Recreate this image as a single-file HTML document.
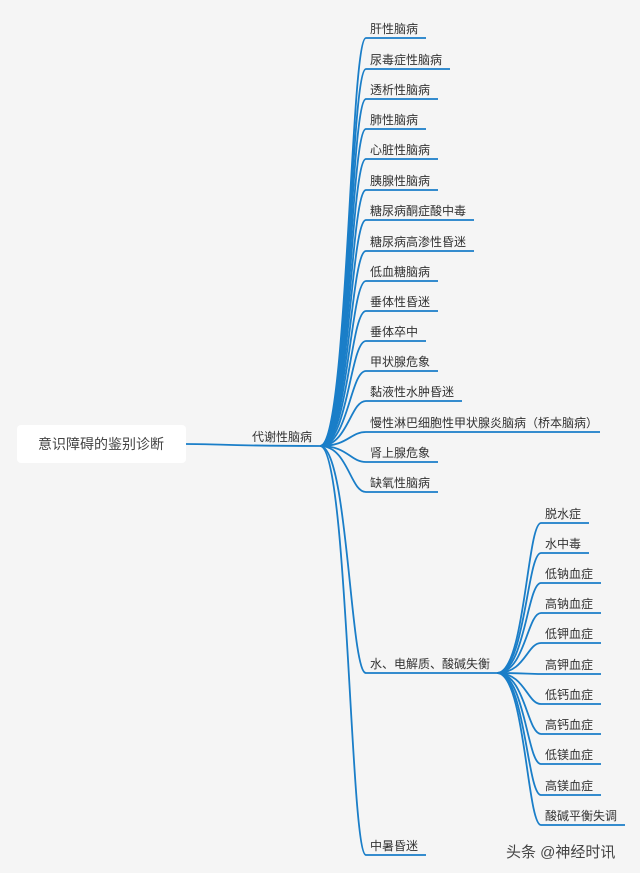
<!DOCTYPE html>
<html><head><meta charset="utf-8"><style>
html,body{margin:0;padding:0;background:#f5f5f5;}
svg{display:block;font-family:"Liberation Sans","Noto Sans CJK SC",sans-serif;}
text{fill:#333;font-size:12px;}
path{fill:none;stroke:#1a7ec8;stroke-width:1.8;}
</style></head><body>
<svg width="640" height="873" viewBox="0 0 640 873">
<rect x="0" y="0" width="640" height="873" fill="#f5f5f5"/>
<rect x="17" y="425" width="169" height="38" rx="4" fill="#fff"/>
<text x="101" y="449" text-anchor="middle" style="font-size:14px;fill:#444">意识障碍的鉴别诊断</text>
<path d="M186 444 C220 444 230 446 320 446"/>
<text x="252" y="441">代谢性脑病</text>
<g>
<path d="M320 446 C348 446 350 38 366 38 H426"/><text x="370" y="33">肝性脑病</text>
<path d="M320 446 C348 446 350 69 366 69 H450"/><text x="370" y="64">尿毒症性脑病</text>
<path d="M320 446 C348 446 350 99 366 99 H438"/><text x="370" y="94">透析性脑病</text>
<path d="M320 446 C348 446 350 129 366 129 H426"/><text x="370" y="124">肺性脑病</text>
<path d="M320 446 C348 446 350 159 366 159 H438"/><text x="370" y="154">心脏性脑病</text>
<path d="M320 446 C348 446 350 190 366 190 H438"/><text x="370" y="185">胰腺性脑病</text>
<path d="M320 446 C348 446 350 220 366 220 H474"/><text x="370" y="215">糖尿病酮症酸中毒</text>
<path d="M320 446 C348 446 350 251 366 251 H474"/><text x="370" y="246">糖尿病高渗性昏迷</text>
<path d="M320 446 C348 446 350 281 366 281 H438"/><text x="370" y="276">低血糖脑病</text>
<path d="M320 446 C348 446 350 311 366 311 H438"/><text x="370" y="306">垂体性昏迷</text>
<path d="M320 446 C348 446 350 341 366 341 H426"/><text x="370" y="336">垂体卒中</text>
<path d="M320 446 C348 446 350 371 366 371 H438"/><text x="370" y="366">甲状腺危象</text>
<path d="M320 446 C348 446 350 401 366 401 H462"/><text x="370" y="396">黏液性水肿昏迷</text>
<path d="M320 446 C348 446 350 432 366 432 H600"/><text x="370" y="427">慢性淋巴细胞性甲状腺炎脑病（桥本脑病）</text>
<path d="M320 446 C348 446 350 462 366 462 H438"/><text x="370" y="457">肾上腺危象</text>
<path d="M320 446 C348 446 350 492 366 492 H438"/><text x="370" y="487">缺氧性脑病</text>
<path d="M320 446 C348 446 350 673 366 673 H497"/><text x="370" y="668">水、电解质、酸碱失衡</text>
<path d="M320 446 C348 446 350 855 366 855 H426"/><text x="370" y="850">中暑昏迷</text>
</g>
<g>
<path d="M497 673 C525 673 527 523 541 523 H589"/><text x="545" y="518">脱水症</text>
<path d="M497 673 C525 673 527 553 541 553 H589"/><text x="545" y="548">水中毒</text>
<path d="M497 673 C525 673 527 583 541 583 H601"/><text x="545" y="578">低钠血症</text>
<path d="M497 673 C525 673 527 613 541 613 H601"/><text x="545" y="608">高钠血症</text>
<path d="M497 673 C525 673 527 643 541 643 H601"/><text x="545" y="638">低钾血症</text>
<path d="M497 673 C525 673 527 674 541 674 H601"/><text x="545" y="669">高钾血症</text>
<path d="M497 673 C525 673 527 704 541 704 H601"/><text x="545" y="699">低钙血症</text>
<path d="M497 673 C525 673 527 734 541 734 H601"/><text x="545" y="729">高钙血症</text>
<path d="M497 673 C525 673 527 764 541 764 H601"/><text x="545" y="759">低镁血症</text>
<path d="M497 673 C525 673 527 795 541 795 H601"/><text x="545" y="790">高镁血症</text>
<path d="M497 673 C525 673 527 825 541 825 H625"/><text x="545" y="820">酸碱平衡失调</text>
</g>
<text x="506" y="857" style="font-size:15px;fill:#444">头条 @神经时讯</text>
</svg>
</body></html>
